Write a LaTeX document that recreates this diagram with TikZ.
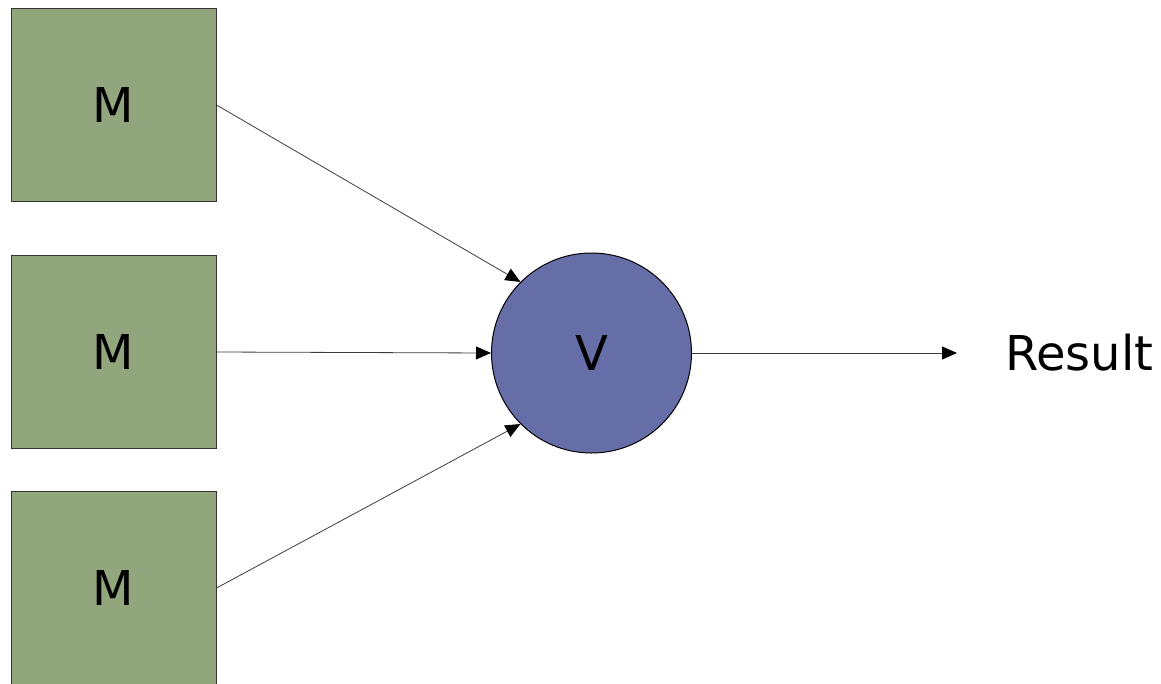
\documentclass[tikz,border=0pt]{standalone}
\usepackage{fontspec}
\setmainfont{DejaVu Sans}
\usetikzlibrary{arrows.meta}
\definecolor{boxgreen}{RGB}{145,166,125}
\definecolor{circblue}{RGB}{102,110,168}
\definecolor{linegray}{RGB}{60,60,60}
\begin{document}
\begin{tikzpicture}[x=1pt,y=-1pt,
  mbox/.style={draw=black!80, line width=1pt, fill=boxgreen, minimum width=205pt, minimum height=193pt, inner sep=0pt, font=\fontsize{48}{56}\selectfont},
  vcirc/.style={circle, draw=black, line width=1pt, fill=circblue, minimum size=200pt, inner sep=0pt, font=\fontsize{48}{56}\selectfont},
  conn/.style={draw=linegray, line width=0.8pt, -{Triangle[length=15pt,width=13pt,color=black]}}]
\useasboundingbox (0,0) rectangle (1161,683);
\clip (0,0) rectangle (1161,683);
\node[mbox] (m1) at (113.5,105) {M};
\node[mbox] (m2) at (113.5,352) {M};
\node[mbox] (m3) at (113.5,588) {M};
\node[vcirc] (v) at (591.5,353) {V};
\node[anchor=west, inner sep=0pt, font=\fontsize{48}{56}\selectfont] (r) at (1005,353) {Result};
\draw[conn] (m1.east) -- (v.135);
\draw[conn] (m2.east) -- (v.west);
\draw[conn] (m3.east) -- (v.225);
\draw[conn, shorten >=48pt] (v.east) -- (r.west);
\end{tikzpicture}
\end{document}
